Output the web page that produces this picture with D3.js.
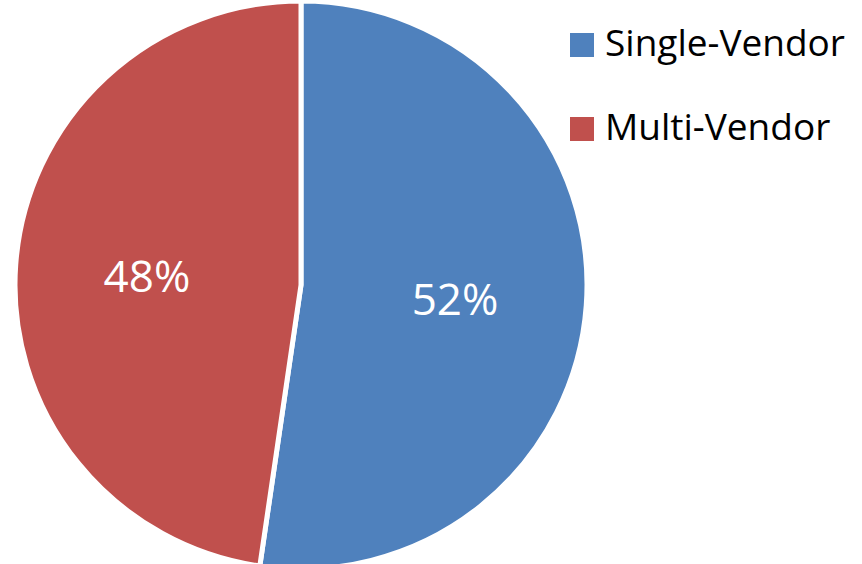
<!DOCTYPE html>
<html>
<head>
<meta charset="utf-8">
<script src="https://cdn.jsdelivr.net/npm/d3@7"></script>
<style>
  html, body { margin: 0; padding: 0; background: #fff; }
  svg { display: block; }
</style>
</head>
<body>
<script>
const categories = ["Single-Vendor", "Multi-Vendor"];
const values = [52.3, 47.7];
const colors = ["#4F81BD", "#C0504D"];

const width = 862;
const height = 564;
const font = "'Open Sans', 'Liberation Sans', sans-serif";

const svg = d3
  .select("body")
  .append("svg")
  .attr("width", width)
  .attr("height", height)
  .style("font-family", font);

const cx = 301;
const cy = 285;
const radius = 286;
const squash = 0.993;

const color = d3.scaleOrdinal().domain(categories).range(colors);
const pct = d3.format(".0f");

const pie = d3.pie().sort(null).value((d, i) => values[i]);
const arcs = pie(categories);

const arc = d3.arc().innerRadius(0).outerRadius(radius);
const labelArc = d3.arc().innerRadius(radius * 0.54).outerRadius(radius * 0.54);

const g = svg
  .append("g")
  .attr("transform", `translate(${cx},${cy}) scale(1,${squash})`);

g.selectAll("path")
  .data(arcs)
  .enter()
  .append("path")
  .attr("d", arc)
  .attr("fill", (d) => color(d.data))
  .attr("stroke", "#fff")
  .attr("stroke-width", 5)
  .attr("stroke-linejoin", "round");

svg
  .append("g")
  .selectAll("text")
  .data(arcs)
  .enter()
  .append("text")
  .attr("transform", (d) => {
    const [x, y] = labelArc.centroid(d);
    return `translate(${cx + x},${cy + y * squash})`;
  })
  .attr("text-anchor", "middle")
  .attr("dy", "0.42em")
  .attr("fill", "#fff")
  .attr("font-size", 44)
  .text((d, i) => pct(values[i]) + "%");

/* legend */
const legend = svg
  .append("g")
  .selectAll("g")
  .data(categories)
  .enter()
  .append("g")
  .attr("transform", (d, i) => `translate(570,${33 + i * 84})`);

legend
  .append("rect")
  .attr("width", 24)
  .attr("height", 24)
  .attr("fill", (d) => color(d));

legend
  .append("text")
  .attr("x", 35)
  .attr("y", 23)
  .attr("font-size", 37)
  .attr("fill", "#000")
  .text((d) => d);
</script>
</body>
</html>
